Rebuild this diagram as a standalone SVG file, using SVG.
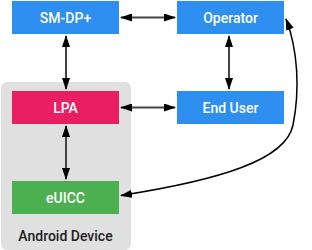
<svg xmlns="http://www.w3.org/2000/svg" width="312" height="250" viewBox="0 0 312 250">
<defs>
<style>
.box{stroke:none}
.blue{fill:#2f8ff0}
.pink{fill:#e91e63}
.green{fill:#4caf50}
.lbl{font-family:Roboto,"Noto Sans",sans-serif;font-size:14px;font-weight:500;fill:#fff;text-anchor:middle}
.dlbl{font-family:Roboto,"Noto Sans",sans-serif;font-size:14px;font-weight:500;fill:#222;text-anchor:middle}
.conn{stroke:#444;stroke-width:2;fill:none;marker-start:url(#a);marker-end:url(#a)}
.curve{stroke:#000;stroke-width:1.5;fill:none;marker-start:url(#a);marker-end:url(#a)}
</style>
<marker id="a" viewBox="0 0 12 8" refX="11" refY="4" markerWidth="12" markerHeight="8" markerUnits="userSpaceOnUse" orient="auto-start-reverse">
<path d="M0,0 L12,4 L0,8 Z" fill="#000"/>
</marker>
</defs>
<g id="android-device">
<rect x="1" y="82" width="130" height="168" rx="6" fill="#e0e0e0"/>
<text class="dlbl" x="65.5" y="241">Android Device</text>
</g>
<g id="smdp">
<rect class="box blue" x="12" y="1" width="107" height="33"/>
<text class="lbl" x="65.5" y="22.5">SM-DP+</text>
</g>
<g id="operator">
<rect class="box blue" x="177" y="1" width="107" height="33"/>
<text class="lbl" x="230.5" y="22.5">Operator</text>
</g>
<g id="lpa">
<rect class="box pink" x="12" y="91" width="107" height="33"/>
<text class="lbl" x="65.5" y="112.5">LPA</text>
</g>
<g id="enduser">
<rect class="box blue" x="177" y="91" width="107" height="33"/>
<text class="lbl" x="230.5" y="112.5">End User</text>
</g>
<g id="euicc">
<rect class="box green" x="12" y="181" width="107" height="33"/>
<text class="lbl" x="65.5" y="202.5">eUICC</text>
</g>
<g id="connectors">
<path class="conn" d="M121,17.5 H175"/>
<path class="conn" d="M66,36 V89"/>
<path class="conn" d="M229,36 V89"/>
<path class="conn" d="M121,107.5 H175"/>
<path class="conn" d="M66,126 V179"/>
<path class="curve" d="M121,195.5 C220,180 286,160 293,125 C300,90 298,50 286,19"/>
</g>
</svg>
